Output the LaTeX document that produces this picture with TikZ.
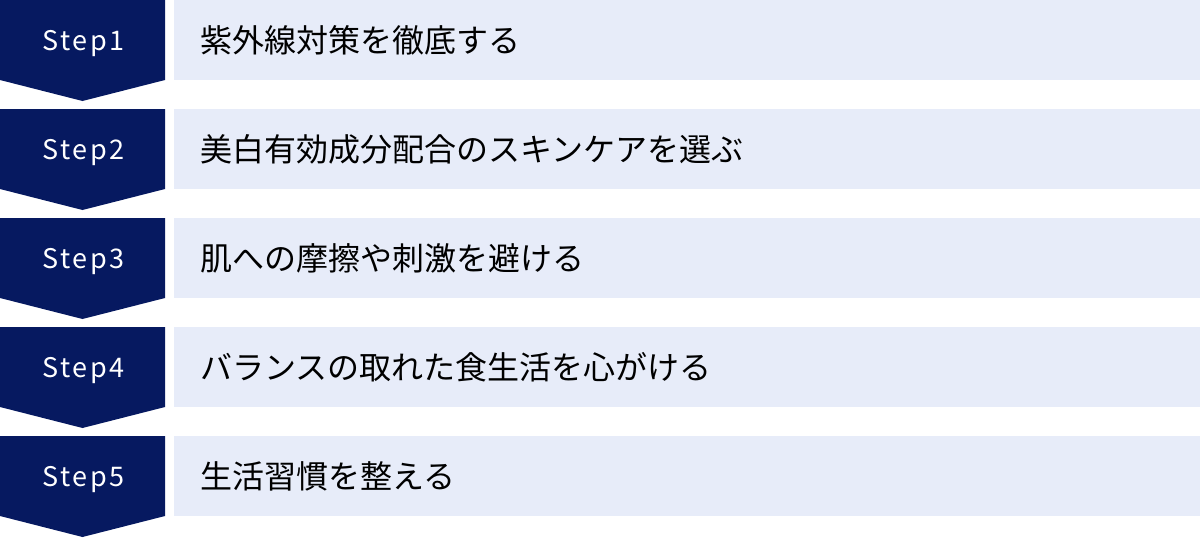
\documentclass[tikz,border=0pt]{standalone}
\usepackage{fontspec}
\setmainfont{Noto Sans CJK JP}
\newfontfamily\stepfont[LetterSpace=9]{Noto Sans CJK JP}
\definecolor{navy}{RGB}{6,25,96}
\definecolor{lightbox}{RGB}{231,236,249}
\begin{document}
\begin{tikzpicture}[x=1pt,y=-1pt,
  stepshape/.style={fill=navy,draw=none},
  itembox/.style={fill=lightbox,draw=none},
  steplabel/.style={text=white,font=\stepfont\fontsize{27}{32}\selectfont,inner sep=0pt,anchor=base},
  itemlabel/.style={text=black,font=\fontsize{32}{38}\selectfont,anchor=base west,inner sep=0pt}]
\useasboundingbox (0,0) rectangle (1200,538);
\foreach \i/\txt in {1/紫外線対策を徹底する,2/美白有効成分配合のスキンケアを選ぶ,3/肌への摩擦や刺激を避ける,4/バランスの取れた食生活を心がける,5/生活習慣を整える}{
  \pgfmathsetmacro{\top}{(\i-1)*109}
  \fill[stepshape] (0,\top) -- (165,\top) -- (165,\top+80) -- (82.5,\top+101) -- (0,\top+80) -- cycle;
  \fill[itembox] (174,\top) rectangle (1200,\top+80);
  \node[steplabel] (s\i) at (83.5,\top+50) {Step\i};
  \node[itemlabel] (t\i) at (200,\top+52) {\txt};
}
\end{tikzpicture}
\end{document}
